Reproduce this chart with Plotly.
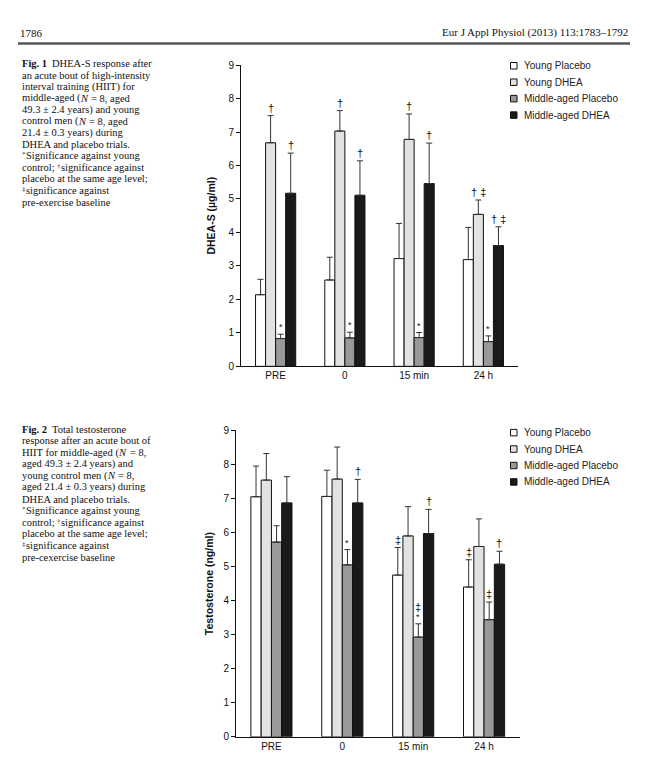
import re
import plotly.graph_objects as go

W, H = 647, 778

# ---------------- data ----------------
categories = ["PRE", "0", "15 min", "24 h"]
series_names = ["Young Placebo", "Young DHEA", "Middle-aged Placebo", "Middle-aged DHEA"]

# Fig. 1 DHEA-S (µg/ml): means and upper error (SD)
dheas_young_placebo = [2.14, 2.58, 3.22, 3.19]
dheas_young_placebo_err = [0.46, 0.68, 1.05, 0.96]
dheas_young_dhea = [6.68, 7.03, 6.78, 4.54]
dheas_young_dhea_err = [0.81, 0.61, 0.76, 0.43]
dheas_mid_placebo = [0.83, 0.85, 0.86, 0.74]
dheas_mid_placebo_err = [0.13, 0.17, 0.15, 0.17]
dheas_mid_dhea = [5.17, 5.11, 5.46, 3.61]
dheas_mid_dhea_err = [1.20, 1.03, 1.21, 0.56]

# Fig. 2 Testosterone (ng/ml)
testo_young_placebo = [7.05, 7.06, 4.75, 4.40]
testo_young_placebo_err = [0.90, 0.77, 0.81, 0.80]
testo_young_dhea = [7.54, 7.57, 5.90, 5.59]
testo_young_dhea_err = [0.78, 0.94, 0.86, 0.81]
testo_mid_placebo = [5.72, 5.05, 2.93, 3.44]
testo_mid_placebo_err = [0.48, 0.45, 0.39, 0.52]
testo_mid_dhea = [6.87, 6.87, 5.97, 5.07]
testo_mid_dhea_err = [0.77, 0.69, 0.71, 0.38]

# significance marks (stacked bottom -> top) per series per category
dheas_sig_young_placebo = [[], [], [], []]
dheas_sig_young_dhea = [["†"], ["†"], ["†"], ["† ‡"]]
dheas_sig_mid_placebo = [["*"], ["*"], ["*"], ["*"]]
dheas_sig_mid_dhea = [["†"], ["†"], ["†"], ["† ‡"]]

testo_sig_young_placebo = [[], [], ["‡"], ["‡"]]
testo_sig_young_dhea = [[], [], [], []]
testo_sig_mid_placebo = [[], ["*"], ["*", "‡"], ["‡"]]
testo_sig_mid_dhea = [[], ["†"], ["†"], ["†"]]

y_ticks = [0, 1, 2, 3, 4, 5, 6, 7, 8, 9]

caption1 = [
    "<b>Fig. 1</b>  DHEA-S response after",
    "an acute bout of high-intensity",
    "interval training (HIIT) for",
    "middle-aged (<i>N</i> = 8, aged",
    "49.3 ± 2.4 years) and young",
    "control men (<i>N</i> = 8, aged",
    "21.4 ± 0.3 years) during",
    "DHEA and placebo trials.",
    "<sup>*</sup>Significance against young",
    "control; <sup>†</sup>significance against",
    "placebo at the same age level;",
    "<sup>‡</sup>significance against",
    "pre-exercise baseline",
]
caption2 = [
    "<b>Fig. 2</b>  Total testosterone",
    "response after an acute bout of",
    "HIIT for middle-aged (<i>N</i> = 8,",
    "aged 49.3 ± 2.4 years) and",
    "young control men (<i>N</i> = 8,",
    "aged 21.4 ± 0.3 years) during",
    "DHEA and placebo trials.",
    "<sup>*</sup>Significance against young",
    "control; <sup>†</sup>significance against",
    "placebo at the same age level;",
    "<sup>‡</sup>significance against",
    "pre-cexercise baseline",
]

# ---------------- style ----------------
fills = ["#ffffff", "#e2e2e2", "#999999", "#1a1a1a"]
SANS = "Liberation Sans, Arial, sans-serif"
SERIF = "Liberation Serif, Times New Roman, serif"
BARGAP = 0.42
CAP_SIZE = 10.5

# Times (Liberation Serif) advance widths, 1/1000 em, used to place caption pieces
_TW = {' ': 250, '(': 333, ')': 333, '-': 333, ';': 278, '.': 250, ',': 250, '=': 564,
       '±': 564, '*': 500, '†': 500, '‡': 500}
_TW.update({d: 500 for d in "0123456789"})
_TW.update(dict(zip("abcdefghijklmnopqrstuvwxyz",
                    [444, 500, 444, 500, 444, 333, 500, 500, 278, 278, 500, 278, 778, 500,
                     500, 500, 500, 333, 389, 278, 500, 500, 722, 500, 500, 444])))
_TW.update(dict(zip("ABCDEFGHIJKLMNOPQRSTUVWXYZ",
                    [722, 667, 667, 722, 611, 556, 722, 722, 333, 389, 722, 611, 889, 722,
                     722, 556, 722, 667, 556, 611, 722, 722, 944, 722, 722, 611])))
_TB = dict(_TW)
_TB.update({'F': 611, 'g': 500, 'i': 278})
_TI = dict(_TW)
_TI.update({'N': 667})

# extra horizontal nudge (px) before / after each styled piece
_PAD_BEFORE = {"b": 0.0, "i": -0.8, "sup": 0.0, "r": 0.0}
_PAD_AFTER = {"b": 0.0, "i": 1.6, "sup": 0.6, "r": 0.0}


def text_w(s, size, table):
    return sum(table.get(c, 500) for c in s) * size / 1000.0


def px(x):
    return x / W


def py(y):
    return 1 - y / H


annotations = []


def add_caption_line(line, x0, yc):
    parts = [p for p in re.split(r"(<b>.*?</b>|<i>.*?</i>|<sup>.*?</sup>)", line) if p]
    x = x0
    for p in parts:
        m = re.match(r"<(b|i|sup)>(.*?)</\1>", p)
        kind, txt = (m.group(1), m.group(2)) if m else ("r", p)
        size = CAP_SIZE * 0.68 if kind == "sup" else CAP_SIZE
        table = _TB if kind == "b" else (_TI if kind == "i" else _TW)
        lead = len(txt) - len(txt.lstrip(" "))
        body = txt.strip(" ")
        x += _PAD_BEFORE[kind]
        if body:
            font = dict(family=SERIF, size=size, color="#111111")
            if kind == "b":
                font["weight"] = "bold"
            if kind == "i":
                font["style"] = "italic"
            annotations.append(dict(
                x=px(x + text_w(" " * lead, size, table)), y=py(yc), xref="paper", yref="paper",
                text=body, showarrow=False, xanchor="left", yanchor="middle",
                yshift=1.5 if kind == "sup" else 0, font=font,
                borderpad=0, borderwidth=0))
        x += text_w(txt, size, table) + _PAD_AFTER[kind]


fig = go.Figure()

panels = [
    dict(xa="x", ya="y",
         vals=[dheas_young_placebo, dheas_young_dhea, dheas_mid_placebo, dheas_mid_dhea],
         errs=[dheas_young_placebo_err, dheas_young_dhea_err, dheas_mid_placebo_err, dheas_mid_dhea_err],
         sigs=[dheas_sig_young_placebo, dheas_sig_young_dhea, dheas_sig_mid_placebo, dheas_sig_mid_dhea]),
    dict(xa="x2", ya="y2",
         vals=[testo_young_placebo, testo_young_dhea, testo_mid_placebo, testo_mid_dhea],
         errs=[testo_young_placebo_err, testo_young_dhea_err, testo_mid_placebo_err, testo_mid_dhea_err],
         sigs=[testo_sig_young_placebo, testo_sig_young_dhea, testo_sig_mid_placebo, testo_sig_mid_dhea]),
]

bw = (1 - BARGAP) / 4
for p in panels:
    for i, name in enumerate(series_names):
        fig.add_trace(go.Bar(
            x=categories, y=p["vals"][i], name=name, xaxis=p["xa"], yaxis=p["ya"],
            marker=dict(color=fills[i], line=dict(color="#111111", width=1)),
            error_y=dict(type="data", array=p["errs"][i], arrayminus=[0] * 4, symmetric=False,
                         color="#333333", thickness=1, width=3),
            showlegend=False, hoverinfo="skip",
        ))
        for j in range(len(categories)):
            marks = p["sigs"][i][j]
            top = p["vals"][i][j] + p["errs"][i][j]
            for k, mk in enumerate(marks):
                xoff = j - (1 - BARGAP) / 2 + (i + 0.5) * bw
                annotations.append(dict(
                    x=xoff, y=top, xref=p["xa"], yref=p["ya"], text=mk, showarrow=False,
                    xanchor="center", yanchor="bottom", yshift=9 * k,
                    font=dict(family=SANS, size=9 if mk == "*" else 11, color="#111111"),
                ))

# captions
for k, line in enumerate(caption1):
    add_caption_line(line, 22, 58.5 + k * 11.72)
for k, line in enumerate(caption2):
    add_caption_line(line, 22, 430 + k * 11.8)

# header
annotations.append(dict(x=px(18), y=py(27), xref="paper", yref="paper", text="1786",
                        showarrow=False, xanchor="left", yanchor="middle",
                        font=dict(family=SERIF, size=11, color="#111111")))
annotations.append(dict(x=px(630), y=py(27), xref="paper", yref="paper",
                        text="Eur J Appl Physiol (2013) 113:1783–1792",
                        showarrow=False, xanchor="right", yanchor="middle",
                        font=dict(family=SERIF, size=11, color="#111111")))

shapes = [dict(type="line", xref="paper", yref="paper", x0=px(18), x1=px(630),
               y0=py(38), y1=py(38), line=dict(color="#555555", width=2.5))]

# legends (one per panel)
for y0 in (60.7, 433.3):
    for i, name in enumerate(series_names):
        yc = y0 + i * 16.7
        shapes.append(dict(type="rect", xref="paper", yref="paper",
                           x0=px(510.5), x1=px(517), y0=py(yc - 3.3), y1=py(yc + 3.3),
                           fillcolor=fills[i], line=dict(color="#111111", width=1)))
        annotations.append(dict(x=px(521.5), y=py(yc), xref="paper", yref="paper", text=name,
                                showarrow=False, xanchor="left", yanchor="middle",
                                font=dict(family=SANS, size=10, color="#222222")))

yax_common = dict(range=[0, 9], tickvals=y_ticks, ticks="outside", ticklen=4, tickwidth=1,
                  tickcolor="#111111", showline=True, linecolor="#111111", linewidth=1,
                  showgrid=False, zeroline=False,
                  tickfont=dict(family=SANS, size=10, color="#111111"))
xax_common = dict(type="category", range=[-0.5, 3.5], showline=True, linecolor="#111111",
                  linewidth=1, ticks="", showgrid=False, zeroline=False,
                  tickfont=dict(family=SANS, size=10, color="#111111"))

fig.update_layout(
    width=W, height=H, margin=dict(l=0, r=0, t=0, b=0),
    paper_bgcolor="white", plot_bgcolor="white",
    barmode="group", bargap=BARGAP, bargroupgap=0,
    showlegend=False,
    xaxis=dict(domain=[px(241), px(518)], anchor="y", **xax_common),
    yaxis=dict(domain=[py(366), py(60)], anchor="x",
               title=dict(text="DHEA-S (µg/ml)", standoff=10,
                          font=dict(family=SANS, size=10.5, color="#111111", weight="bold")),
               **yax_common),
    xaxis2=dict(domain=[px(236), px(519.5)], anchor="y2", **xax_common),
    yaxis2=dict(domain=[py(742.3), py(431)], anchor="x2",
                title=dict(text="Testosterone (ng/ml)", standoff=7,
                           font=dict(family=SANS, size=10.5, color="#111111", weight="bold")),
                **yax_common),
    annotations=annotations,
    shapes=shapes,
)

fig.write_html("out.html", config={"displayModeBar": False, "staticPlot": True},
               post_script="document.body.style.margin='0';document.body.style.padding='0';")
